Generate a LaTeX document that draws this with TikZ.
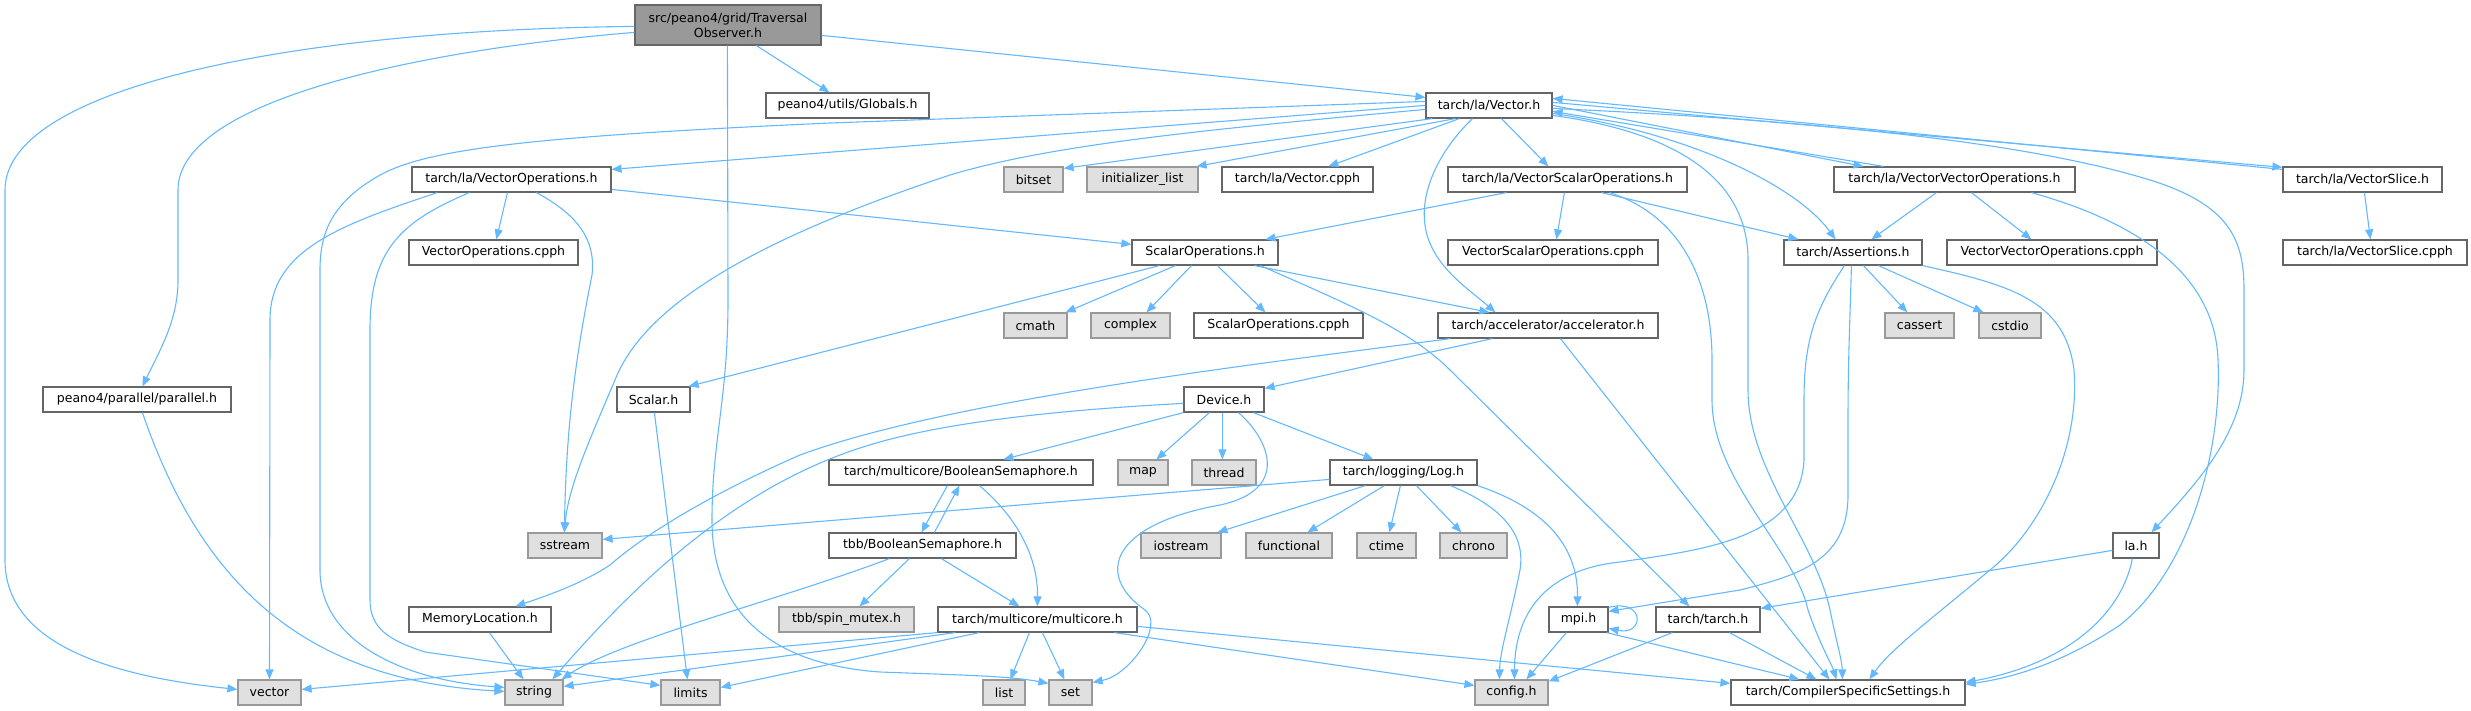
\documentclass[tikz,border=0pt]{standalone}
\usepackage{fontspec}
\setmainfont{DejaVu Sans}
\usetikzlibrary{arrows.meta}
\definecolor{eb}{HTML}{63B8FF}
\definecolor{bd}{HTML}{666666}
\definecolor{sysbd}{HTML}{999999}
\definecolor{sysfill}{HTML}{E0E0E0}
\definecolor{rootfill}{HTML}{999999}
\tikzset{
  nd/.style={draw=bd, line width=1.2pt, fill=white, minimum height=25pt, inner sep=0pt,
    font=\fontsize{12.5}{15}\selectfont},
  sys/.style={nd, draw=sysbd, fill=sysfill},
  e/.style={draw=eb, line width=1.1pt, -{Triangle[length=10pt,width=8pt]}},
}
\begin{document}
\begin{tikzpicture}[x=1pt,y=-1pt]
\useasboundingbox (0,0) rectangle (2471,711);
% nodes
\node[nd, fill=rootfill, minimum width=186pt, minimum height=40pt, align=center] (root) at (728,25) {src/peano4/grid/Traversal\\Observer.h};
\node[nd, minimum width=163pt] (globals) at (847.5,105.5) {peano4/utils/Globals.h};
\node[nd, minimum width=126pt] (vec) at (1489,105.5) {tarch/la/Vector.h};
\node[nd, minimum width=199pt] (vops) at (511.5,179.5) {tarch/la/VectorOperations.h};
\node[sys, minimum width=59pt] (bitset) at (1033.5,179.5) {bitset};
\node[sys, minimum width=111pt] (initl) at (1142.5,179.5) {initializer\_list};
\node[nd, minimum width=151pt] (veccpph) at (1297.5,179.5) {tarch/la/Vector.cpph};
\node[nd, minimum width=239pt] (vso) at (1567.5,179.5) {tarch/la/VectorScalarOperations.h};
\node[nd, minimum width=241pt] (vvo) at (1954.5,179.5) {tarch/la/VectorVectorOperations.h};
\node[nd, minimum width=159pt] (vslice) at (2362.5,179.5) {tarch/la/VectorSlice.h};
\node[nd, minimum width=169pt] (vopscpph) at (493.5,252.5) {VectorOperations.cpph};
\node[nd, minimum width=146pt] (sops) at (1205,252.5) {ScalarOperations.h};
\node[nd, minimum width=210pt] (vsocpph) at (1553,252.5) {VectorScalarOperations.cpph};
\node[nd, minimum width=138pt] (assert) at (1853,252.5) {tarch/Assertions.h};
\node[nd, minimum width=210pt] (vvocpph) at (2052,252.5) {VectorVectorOperations.cpph};
\node[nd, minimum width=184pt] (vslicecpph) at (2375,252.5) {tarch/la/VectorSlice.cpph};
\node[sys, minimum width=63pt] (cmath) at (1035.5,325.5) {cmath};
\node[sys, minimum width=79pt] (complex) at (1130.5,325.5) {complex};
\node[nd, minimum width=169pt] (sopscpph) at (1278.5,325.5) {ScalarOperations.cpph};
\node[nd, minimum width=220pt] (accel) at (1548,325.5) {tarch/accelerator/accelerator.h};
\node[sys, minimum width=69pt] (cassert) at (1919.5,325.5) {cassert};
\node[sys, minimum width=62pt] (cstdio) at (2010,325.5) {cstdio};
\node[nd, minimum width=188pt] (parallel) at (137,399.5) {peano4/parallel/parallel.h};
\node[nd, minimum width=73pt] (scalar) at (653.5,399.5) {Scalar.h};
\node[nd, minimum width=80pt] (device) at (1224,399.5) {Device.h};
\node[nd, minimum width=264pt] (bs) at (961,472.5) {tarch/multicore/BooleanSemaphore.h};
\node[sys, minimum width=50pt] (map) at (1143,472.5) {map};
\node[sys, minimum width=64pt] (thread) at (1224,472.5) {thread};
\node[nd, minimum width=147pt] (log) at (1403.5,472.5) {tarch/logging/Log.h};
\node[sys, minimum width=74pt] (sstream) at (565,545.5) {sstream};
\node[nd, minimum width=187pt] (tbbbs) at (922.5,545.5) {tbb/BooleanSemaphore.h};
\node[sys, minimum width=80pt] (iostream) at (1181,545.5) {iostream};
\node[sys, minimum width=86pt] (functional) at (1289,545.5) {functional};
\node[sys, minimum width=59pt] (ctime) at (1386.5,545.5) {ctime};
\node[sys, minimum width=67pt] (chrono) at (1473.5,545.5) {chrono};
\node[nd, minimum width=46pt] (lah) at (2136,545.5) {la.h};
\node[nd, minimum width=142pt] (memloc) at (480,619.5) {MemoryLocation.h};
\node[sys, minimum width=135pt] (spin) at (846.5,619.5) {tbb/spin\_mutex.h};
\node[nd, minimum width=199pt] (multicore) at (1037.5,619.5) {tarch/multicore/multicore.h};
\node[nd, minimum width=59pt] (mpi) at (1578.5,619.5) {mpi.h};
\node[nd, minimum width=104pt] (tarchh) at (1708,619.5) {tarch/tarch.h};
\node[sys, minimum width=63pt] (vector) at (269.5,692.5) {vector};
\node[sys, minimum width=58pt] (string) at (534,692.5) {string};
\node[sys, minimum width=59pt] (limits) at (690.5,692.5) {limits};
\node[sys, minimum width=42pt] (list) at (1004,692.5) {list};
\node[sys, minimum width=43pt] (set) at (1070.5,692.5) {set};
\node[sys, minimum width=73pt] (config) at (1511.5,692.5) {config.h};
\node[nd, minimum width=234pt] (compiler) at (1848,692.5) {tarch/CompilerSpecificSettings.h};
% edges from root
\draw[e] ([xshift=122pt]root.south west) -- ([xshift=64pt]globals.north west);
\draw[e] ([yshift=-31pt]root.north east) -- ([yshift=-5pt]vec.north west);
\draw[e] ([yshift=-22pt]root.north west) .. controls (280,30) and (5,90) .. (5,190) -- (5,560) .. controls (5,640) and (100,675) .. ([yshift=-10pt]vector.north west);
\draw[e] ([yshift=-28pt]root.north west) .. controls (420,50) and (178,100) .. (178,190) -- (178,280) .. controls (178,320) and (160,350) .. ([xshift=100pt]parallel.north west);
\draw[e] ([xshift=93pt]root.south west) -- (728,300) .. controls (728,400) and (712,440) .. (712,520) .. controls (712,620) and (780,665) .. (880,672) .. controls (960,675) and (1010,676) .. ([yshift=-4pt]set.north west);
% edges from Vector.h
\draw[e] ([yshift=-9pt]vec.north west) -- (830,123) .. controls (520,137) and (420,150) .. (375,178) .. controls (330,205) and (320,235) .. (320,270) -- (320,570) .. controls (320,640) and (400,680) .. ([yshift=-8pt]string.north west);
\draw[e] ([yshift=-13pt]vec.north west) -- ([yshift=-3pt]vops.north east);
\draw[e] ([yshift=-17pt]vec.north west) .. controls (1200,130) and (1050,145) .. (950,175) .. controls (800,225) and (650,290) .. (615,380) .. controls (585,450) and (568,490) .. ([xshift=37pt]sstream.north west);
\draw[e] ([xshift=7pt]vec.south west) -- ([yshift=-2pt]bitset.north east);
\draw[e] ([xshift=30pt]vec.south west) -- ([xshift=-2pt]initl.north east);
\draw[e] ([xshift=34pt]vec.south west) -- ([xshift=107pt]veccpph.north west);
\draw[e] ([xshift=76pt]vec.south west) -- ([xshift=101pt]vso.north west);
\draw[e] ([xshift=47pt]vec.south west) .. controls (1440,150) and (1420,190) .. (1425,225) .. controls (1430,265) and (1470,290) .. ([xshift=58pt]accel.north west);
\draw[e] ([yshift=-13pt]vec.north east) -- ([xshift=30pt]vvo.north west);
\draw[e] ([xshift=50pt]vvo.north west) -- ([yshift=-19pt]vec.north east);
\draw[e] ([yshift=-10pt]vec.north east) -- ([yshift=-1pt]vslice.north west);
\draw[e] ([yshift=-3pt]vslice.north west) -- ([yshift=-6pt]vec.north east);
\draw[e] ([xshift=82pt]vslice.south west) -- ([xshift=88pt]vslicecpph.north west);
\draw[e] ([yshift=-21pt]vec.north east) .. controls (1700,135) and (1800,190) .. ([xshift=52pt]assert.north west);
\draw[e] ([yshift=-23pt]vec.north east) .. controls (1660,130) and (1748,170) .. (1748,260) -- (1748,390) .. controls (1748,470) and (1815,540) .. (1830,610) .. controls (1836,640) and (1842,660) .. ([xshift=112pt]compiler.north west);
\draw[e] ([yshift=-16pt]vec.north east) .. controls (1800,120) and (2020,140) .. (2150,180) .. controls (2230,205) and (2244,240) .. (2244,290) -- (2244,370) .. controls (2244,430) and (2200,480) .. ([xshift=39pt]lah.north west);
% VectorVectorOperations, la.h
\draw[e] ([xshift=103pt]vvo.south west) -- ([xshift=88pt]assert.north west);
\draw[e] ([xshift=138pt]vvo.south west) -- ([xshift=85pt]vvocpph.north west);
\draw[e] ([xshift=198pt]vvo.south west) .. controls (2130,220) and (2215,270) .. (2218,360) .. controls (2222,450) and (2190,570) .. (2120,625) .. controls (2060,665) and (2010,678) .. ([yshift=-5pt]compiler.north east);
\draw[e] ([xshift=20pt]lah.south west) .. controls (2120,620) and (2060,665) .. ([yshift=-3pt]compiler.north east);
\draw[e] ([yshift=-18pt]lah.north west) -- ([yshift=-2pt]tarchh.north east);
% VectorScalarOperations
\draw[e] ([xshift=59pt]vso.south west) -- ([xshift=134pt]sops.north west);
\draw[e] ([xshift=117pt]vso.south west) -- ([xshift=109pt]vsocpph.north west);
\draw[e] ([xshift=154pt]vso.south west) -- ([xshift=15pt]assert.north west);
\draw[e] ([xshift=162pt]vso.south west) .. controls (1680,215) and (1712,280) .. (1712,360) -- (1712,400) .. controls (1712,480) and (1795,550) .. (1808,610) .. controls (1820,645) and (1832,665) .. ([xshift=106pt]compiler.north west);
% ScalarOperations
\draw[e] ([xshift=44pt]sops.south west) -- ([xshift=-2pt]cmath.north east);
\draw[e] ([xshift=60pt]sops.south west) -- ([xshift=56pt]complex.north west);
\draw[e] ([xshift=86pt]sops.south west) -- ([xshift=72pt]sopscpph.north west);
\draw[e] ([xshift=123pt]sops.south west) -- ([xshift=52pt]accel.north west);
\draw[e] ([xshift=129pt]sops.south west) .. controls (1350,305) and (1410,330) .. (1450,370) -- ([xshift=34pt]tarchh.north west);
\draw[e] ([xshift=28pt]sops.south west) -- ([xshift=-2pt]scalar.north east);
% VectorOperations
\draw[e] ([xshift=26pt]vops.south west) .. controls (340,225) and (270,250) .. (270,320) -- (vector.north);
\draw[e] ([xshift=58pt]vops.south west) .. controls (400,222) and (370,250) .. (370,330) -- (370,600) .. controls (370,628) and (388,640) .. (425,652) -- ([yshift=-6pt]limits.north west);
\draw[e] ([xshift=96pt]vops.south west) -- ([xshift=88pt]vopscpph.north west);
\draw[e] ([xshift=125pt]vops.south west) .. controls (578,215) and (596,240) .. (592,275) .. controls (575,360) and (566,430) .. ([xshift=37pt]sstream.north west);
\draw[e] ([yshift=-23pt]vops.north east) -- ([yshift=-5pt]sops.north west);
% accelerator
\draw[e] ([xshift=55pt]accel.south west) -- ([yshift=-2pt]device.north east);
\draw[e] ([xshift=13pt]accel.south west) .. controls (1250,365) and (950,400) .. (800,455) .. controls (720,490) and (650,530) .. (610,565) .. controls (580,585) and (540,598) .. ([xshift=107pt]memloc.north west);
\draw[e] ([xshift=123pt]accel.south west) -- ([xshift=99pt]compiler.north west);
% Device
\draw[e] (device.south west) -- ([xshift=175pt]bs.north west);
\draw[e] ([xshift=26pt]device.south west) -- ([xshift=39pt]map.north west);
\draw[e] ([xshift=39pt]device.south west) -- ([xshift=31pt]thread.north west);
\draw[e] ([xshift=70pt]device.south west) -- ([xshift=44pt]log.north west);
\draw[e] ([xshift=55pt]device.south west) .. controls (1270,440) and (1290,490) .. (1220,505) .. controls (1110,525) and (1095,575) .. (1145,610) .. controls (1165,625) and (1130,675) .. ([yshift=-3pt]set.north east);
\draw[e] ([yshift=-17pt]device.north west) .. controls (1020,412) and (920,428) .. (860,448) .. controls (730,490) and (630,590) .. ([xshift=48pt]string.north west);
% Log
\draw[e] ([yshift=-20pt]log.north west) -- ([yshift=-7pt]sstream.north east);
\draw[e] ([xshift=36pt]log.south west) -- ([xshift=77pt]iostream.north west);
\draw[e] ([xshift=55pt]log.south west) -- ([xshift=62pt]functional.north west);
\draw[e] ([xshift=71pt]log.south west) -- ([xshift=33pt]ctime.north west);
\draw[e] ([xshift=87pt]log.south west) -- ([xshift=22pt]chrono.north west);
\draw[e] ([xshift=121pt]log.south west) .. controls (1510,510) and (1525,540) .. (1520,570) .. controls (1510,620) and (1500,650) .. ([xshift=25pt]config.north west);
\draw[e] (log.south east) .. controls (1550,510) and (1578,550) .. ([xshift=29pt]mpi.north west);
% semaphores
\draw[e] ([xshift=119pt]bs.south west) -- ([xshift=93pt]tbbbs.north west);
\draw[e] ([xshift=106pt]tbbbs.north west) -- ([xshift=131pt]bs.south west);
\draw[e] ([xshift=151pt]bs.south west) .. controls (1020,520) and (1038,560) .. ([xshift=100pt]multicore.north west);
\draw[e] ([xshift=81pt]tbbbs.south west) -- ([xshift=81pt]spin.north west);
\draw[e] ([xshift=113pt]tbbbs.south west) -- ([xshift=82pt]multicore.north west);
\draw[e] ([xshift=61pt]tbbbs.south west) .. controls (780,600) and (620,640) .. ([xshift=-2pt]string.north east);
% multicore
\draw[e] (multicore.south west) -- ([yshift=-10pt]vector.north east);
\draw[e] ([xshift=18pt]multicore.south west) -- ([yshift=-7pt]string.north east);
\draw[e] ([xshift=42pt]multicore.south west) -- ([yshift=-8pt]limits.north east);
\draw[e] ([xshift=92pt]multicore.south west) -- ([xshift=28pt]list.north west);
\draw[e] ([xshift=105pt]multicore.south west) -- ([xshift=16pt]set.north west);
\draw[e] ([xshift=177pt]multicore.south west) -- ([yshift=-6pt]config.north west);
\draw[e] ([yshift=-20pt]multicore.north east) -- ([yshift=-4pt]compiler.north west);
% others
\draw[e] ([xshift=81pt]memloc.south west) -- ([xshift=19pt]string.north west);
\draw[e] ([xshift=100pt]parallel.south west) .. controls (200,580) and (300,680) .. ([yshift=-12pt]string.north west);
\draw[e] ([xshift=38pt]scalar.south west) -- ([xshift=27pt]limits.north west);
\draw[e] ([xshift=17pt]tarchh.south west) -- ([yshift=-2pt]config.north east);
\draw[e] ([xshift=74pt]tarchh.south west) -- ([xshift=86pt]compiler.north west);
\draw[e] ([xshift=18pt]mpi.south west) -- ([xshift=52pt]config.north west);
\draw[e] ([yshift=-1pt]mpi.north east) .. controls (1645,598) and (1645,636) .. ([yshift=-22pt]mpi.north east);
\draw[e] ([xshift=-2pt]mpi.south east) -- ([xshift=69pt]compiler.north west);
% Assertions
\draw[e] ([xshift=68pt]assert.south west) .. controls (1850,320) and (1848,360) .. (1848,420) -- (1848,495) .. controls (1848,560) and (1800,575) .. (1740,590) -- ([yshift=-5pt]mpi.north east);
\draw[e] ([xshift=61pt]assert.south west) .. controls (1815,310) and (1804,340) .. (1804,400) -- (1804,460) .. controls (1800,540) and (1700,550) .. (1620,562) .. controls (1560,568) and (1515,600) .. ([xshift=40pt]config.north west);
\draw[e] ([xshift=80pt]assert.south west) -- ([xshift=23pt]cassert.north west);
\draw[e] ([xshift=95pt]assert.south west) -- ([xshift=5pt]cstdio.north west);
\draw[e] (assert.south east) .. controls (2010,285) and (2065,300) .. (2074,370) .. controls (2080,450) and (2040,530) .. (1990,570) .. controls (1930,620) and (1890,650) .. ([xshift=139pt]compiler.north west);
\end{tikzpicture}
\end{document}
